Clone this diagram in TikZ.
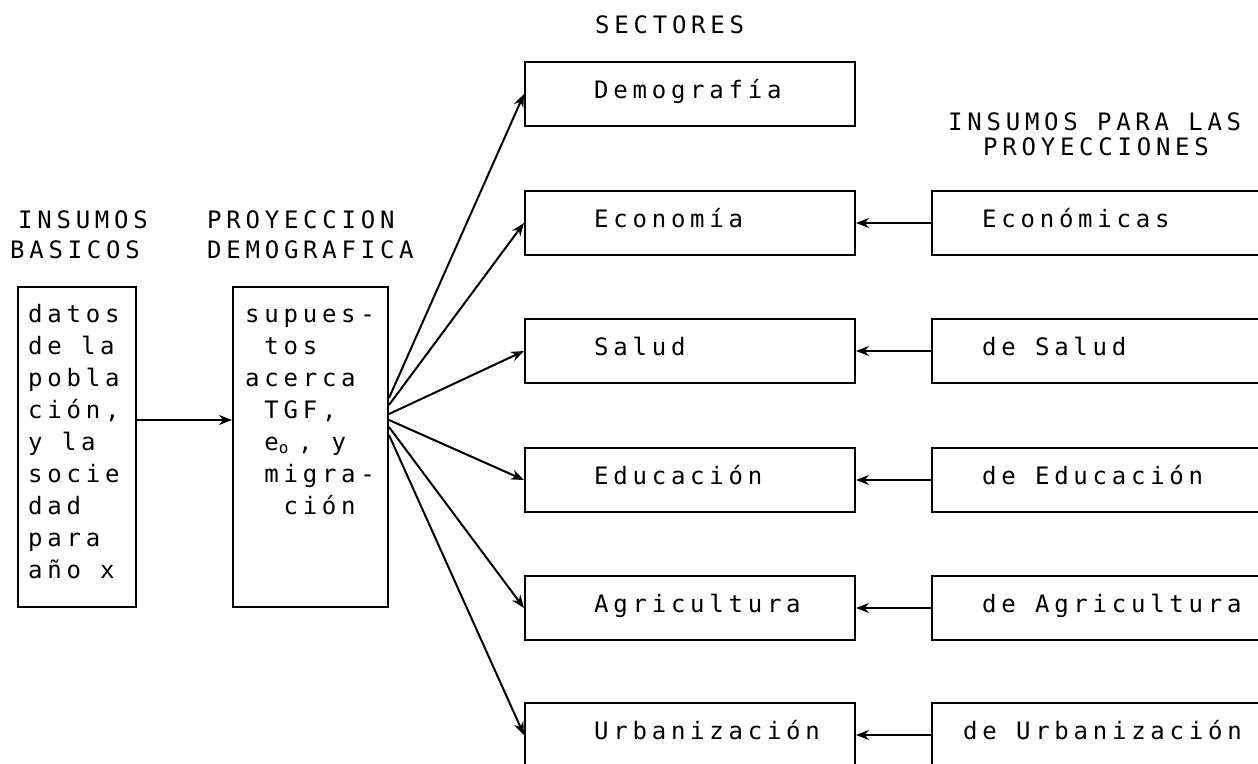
\documentclass[tikz,border=0pt]{standalone}
\usepackage{fontspec}
\usetikzlibrary{arrows.meta}
\newfontfamily\dm[LetterSpace=19.8]{DejaVu Sans Mono}
\newcommand{\ind}{\hspace*{19.2pt}}
\newcommand{\subo}{\makebox[19.2pt][l]{\raisebox{-3pt}{\fontsize{16}{16}\selectfont o}}}
\tikzset{
  box/.style={draw, line width=2pt, inner sep=0pt},
  lbl/.style={font=\dm\fontsize{24}{32}\selectfont, inner sep=0pt, anchor=base west},
  arr/.style={line width=2pt, -{Stealth[length=13pt,width=10pt]}},
}
\begin{document}
\begin{tikzpicture}[x=1pt,y=-1pt]
\useasboundingbox (0,0) rectangle (1258,763);
\clip (0,0) rectangle (1258,763);
% titles
\node[lbl] (tsec) at (595,33) {SECTORES};
\node[lbl] (tins1) at (948,130) {INSUMOS PARA LAS};
\node[lbl] (tins2) at (983,155) {PROYECCIONES};
\node[lbl] (tib1) at (18,228) {INSUMOS};
\node[lbl] (tib2) at (10,258) {BASICOS};
\node[lbl] (tpd1) at (207,228) {PROYECCION};
\node[lbl] (tpd2) at (207,258) {DEMOGRAFICA};
% left boxes
\node[box, minimum width=118pt, minimum height=320pt] (datos) at (77,447) {};
\node[box, minimum width=155pt, minimum height=320pt] (proj) at (310.5,447) {};
\foreach \t [count=\i] in {datos, de la, pobla, {ción,}, y la, socie, dad, para, año x}
  \node[lbl] (d\i) at (28, 290+32*\i) {\t};
\foreach \t [count=\i] in {supues-, \ind tos, acerca, {\ind TGF,}, {\ind e\subo, y}, \ind migra-, \ind\ind ción}
  \node[lbl] (p\i) at (245, 290+32*\i) {\t};
% sector boxes
\foreach \n/\y/\t in {dem/62/Demografía, eco/191/Economía, sal/319/Salud, edu/448/Educación, agr/576/Agricultura, urb/703/Urbanización}{
  \node[box, minimum width=330pt, minimum height=64pt] (\n) at (690,\y+32) {};
  \node[lbl] (\n t) at (594,\y+36) {\t};
}
% right boxes
\foreach \n/\y/\t/\x in {reco/191/Económicas/982, rsal/319/de Salud/982, redu/448/de Educación/982, ragr/576/de Agricultura/982, rurb/703/de Urbanización/963}{
  \node[box, minimum width=400pt, minimum height=64pt] (\n) at (1132,\y+32) {};
  \node[lbl] (\n t) at (\x,\y+36) {\t};
}
% connectors
\draw[arr] ([yshift=27pt]datos.east) -- ([yshift=27pt]proj.west);
\draw[arr] ([yshift=49pt]proj.east) -- (dem.west);
\draw[arr] ([yshift=42pt]proj.east) -- (eco.west);
\draw[arr] ([yshift=33pt]proj.east) -- (sal.west);
\draw[arr] ([yshift=27pt]proj.east) -- (edu.west);
\draw[arr] ([yshift=20pt]proj.east) -- (agr.west);
\draw[arr] ([yshift=12pt]proj.east) -- (urb.west);
\foreach \a/\b in {reco/eco, rsal/sal, redu/edu, ragr/agr, rurb/urb}
  \draw[arr] (\a.west) -- (\b.east);
\end{tikzpicture}
\end{document}
